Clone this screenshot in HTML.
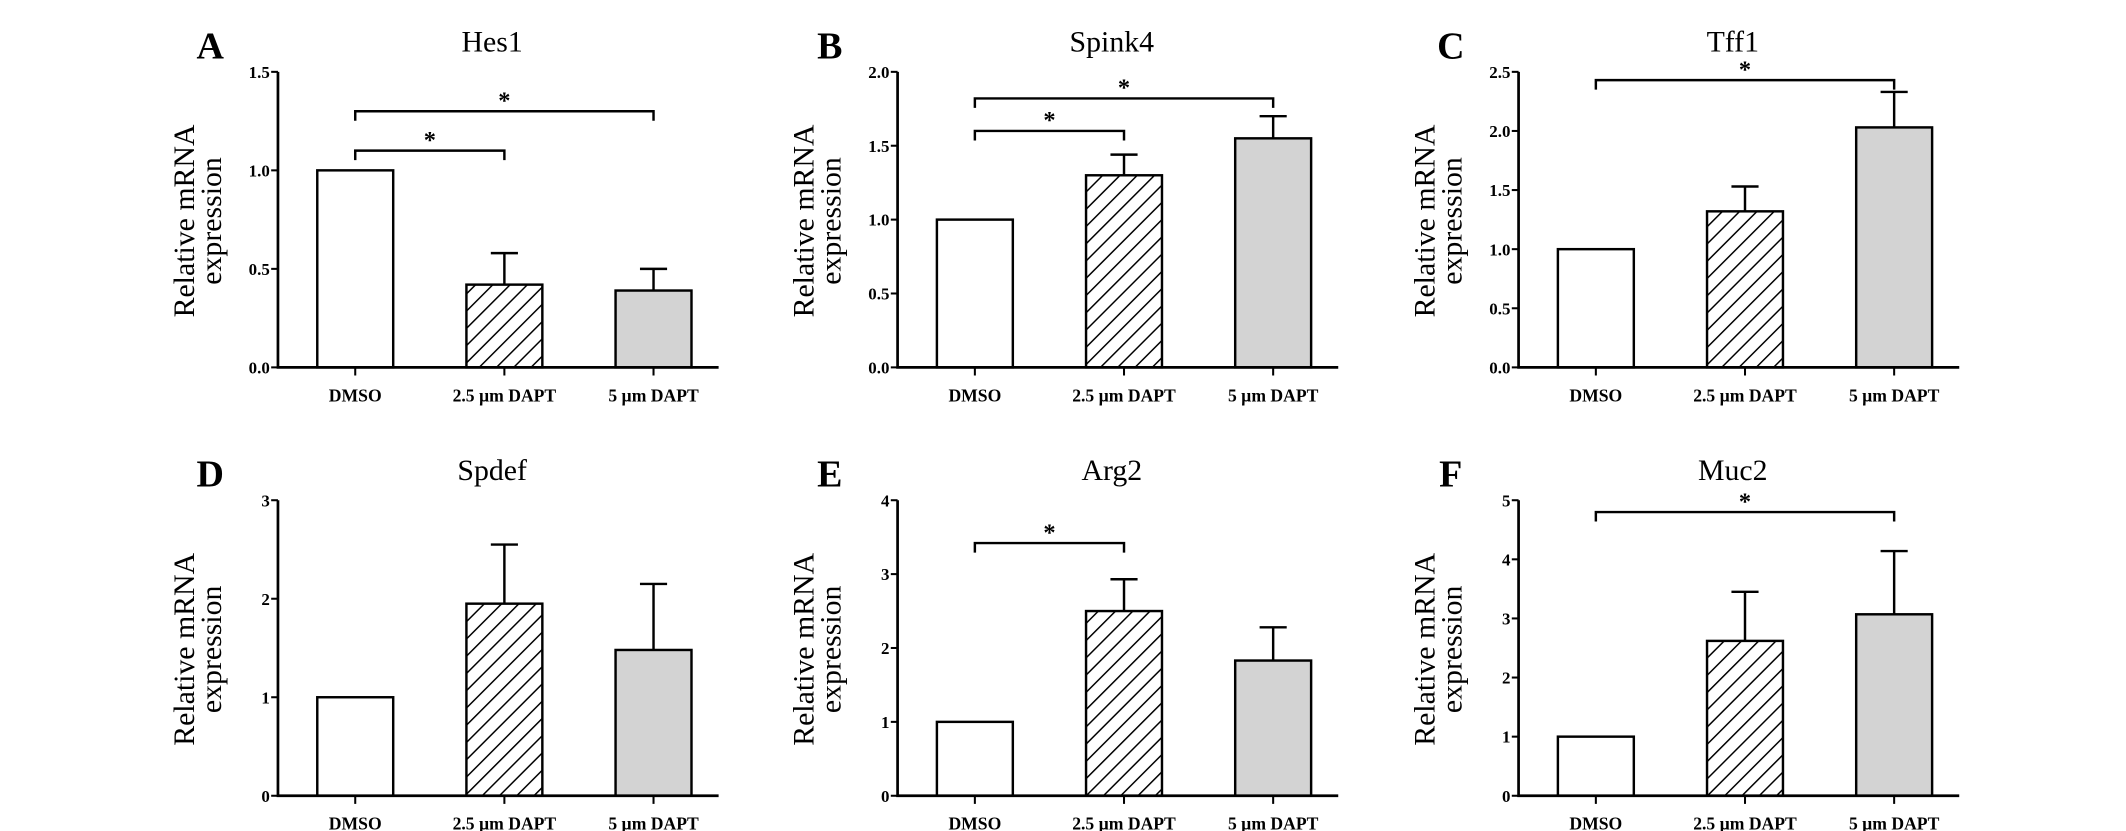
<!DOCTYPE html>
<html><head><meta charset="utf-8"><style>
html,body{margin:0;padding:0;background:#fff;}
svg{display:block;font-family:"Liberation Serif",serif;}
</style></head><body>
<svg id="fig" width="2126" height="831" viewBox="0 0 1568 613" preserveAspectRatio="none" xmlns="http://www.w3.org/2000/svg">
<defs>
<pattern id="hatch" patternUnits="userSpaceOnUse" width="9" height="9" patternTransform="rotate(45)">
<rect width="9" height="9" fill="#fff"/>
<line x1="0" y1="0" x2="0" y2="9" stroke="#000" stroke-width="2.2"/>
</pattern>
</defs>
</svg>
<script>
const categories = ["DMSO", "2.5 µm DAPT", "5 µm DAPT"];
const titles = ["Hes1", "Spink4", "Tff1", "Spdef", "Arg2", "Muc2"];
const letters = ["A", "B", "C", "D", "E", "F"];
const means = [[1.0, 0.42, 0.39], [1.0, 1.30, 1.55], [1.0, 1.32, 2.03], [1.0, 1.95, 1.48], [1.0, 2.50, 1.83], [1.0, 2.62, 3.07]];
const errTops = [[null, 0.58, 0.50], [null, 1.44, 1.70], [null, 1.53, 2.33], [null, 2.55, 2.15], [null, 2.93, 2.28], [null, 3.45, 4.14]];
const yMaxes = [1.5, 2.0, 2.5, 3, 4, 5];
const yTickLabels = [["0.0","0.5","1.0","1.5"], ["0.0","0.5","1.0","1.5","2.0"], ["0.0","0.5","1.0","1.5","2.0","2.5"], ["0","1","2","3"], ["0","1","2","3","4"], ["0","1","2","3","4","5"]];
const yTickValues = [[0,0.5,1,1.5], [0,0.5,1,1.5,2], [0,0.5,1,1.5,2,2.5], [0,1,2,3], [0,1,2,3,4], [0,1,2,3,4,5]];
// brackets: [fromIndex, toIndex, yValue]
const brackets = [[[0,1,1.10],[0,2,1.30]], [[0,1,1.60],[0,2,1.82]], [[0,2,2.43]], [], [[0,1,3.42]], [[0,2,4.80]]];

const NS = "http://www.w3.org/2000/svg";
const svg = document.getElementById("fig");
const colX = [205, 662, 1120];
const rowTop = [53, 369];
const plotH = 218;
const fills = ["#fff", "url(#hatch)", "#d3d3d3"];
function mk(tag, attrs, parent) {
  const e = document.createElementNS(NS, tag);
  for (const k in attrs) e.setAttribute(k, attrs[k]);
  (parent || svg).appendChild(e);
  return e;
}
titles.forEach((t, p) => {
  const ax = colX[p % 3], top = rowTop[Math.floor(p / 3)], base = top + plotH;
  const g = mk("g", {});
  
  
  const yScale = v => base - v / yMaxes[p] * plotH;
  const xScale = i => ax + 57 + i * 110;
  const letter = mk("text", {x: ax - 50, y: top - 10, "font-size": 28, "font-weight": "bold", "text-anchor": "middle"}, g);
  letter.textContent = letters[p];
  
  
  const title = mk("text", {x: ax + 158, y: top - 15, "font-size": 22, "text-anchor": "middle"}, g);
  title.textContent = t;
  
  
  const yl = mk("text", {transform: `translate(${ax - 62},${top + 110}) rotate(-90)`, "font-size": 22, "text-anchor": "middle"}, g);
  yl.textContent = "Relative mRNA";
  
  
  const yl2 = mk("text", {transform: `translate(${ax - 42},${top + 110}) rotate(-90)`, "font-size": 22, "text-anchor": "middle"}, g);
  yl2.textContent = "expression";
  
  
  means[p].forEach((v, i) => {
    const cx = xScale(i);
    const r = mk("rect", {x: cx - 28, y: yScale(v), width: 56, height: base - yScale(v), fill: fills[i], stroke: "#000", "stroke-width": 1.8}, g);
    
    
    const et = errTops[p][i];
    if (et !== null) {
      const el = mk("path", {d: `M${cx},${yScale(v)}V${yScale(et)}M${cx - 10},${yScale(et)}H${cx + 10}`, stroke: "#000", "stroke-width": 1.8, fill: "none"}, g);
      
      
    }
    const lab = mk("text", {x: cx, y: base + 25, "font-size": 13, "font-weight": "bold", "text-anchor": "middle"}, g);
    lab.textContent = categories[i];
    
    
    const tk = mk("line", {x1: cx, x2: cx, y1: base, y2: base + 6, stroke: "#000", "stroke-width": 1.5}, g);
    
    
  });
  const axes = mk("path", {d: `M${ax},${top}V${base}H${ax + 325}`, stroke: "#000", "stroke-width": 2, fill: "none"}, g);
  
  
  yTickValues[p].forEach((v, k) => {
    const y = yScale(v);
    const tk = mk("line", {x1: ax - 5, x2: ax, y1: y, y2: y, stroke: "#000", "stroke-width": 1.5}, g);
    
    
    const tl = mk("text", {x: ax - 6, y: y + 4.5, "font-size": 12.5, "font-weight": "bold", "text-anchor": "end"}, g);
    tl.textContent = yTickLabels[p][k];
    
    
  });
  brackets[p].forEach(b => {
    const x1 = xScale(b[0]), x2 = xScale(b[1]), y = yScale(b[2]);
    const br = mk("path", {d: `M${x1},${y + 7}V${y}H${x2}V${y + 7}`, stroke: "#000", "stroke-width": 1.8, fill: "none"}, g);
    
    
    const st = mk("text", {x: (x1 + x2) / 2, y: y - 2, "font-size": 18, "font-weight": "bold", "text-anchor": "middle"}, g);
    st.textContent = "*";
    
    
  });
});
</script>
</body></html>
